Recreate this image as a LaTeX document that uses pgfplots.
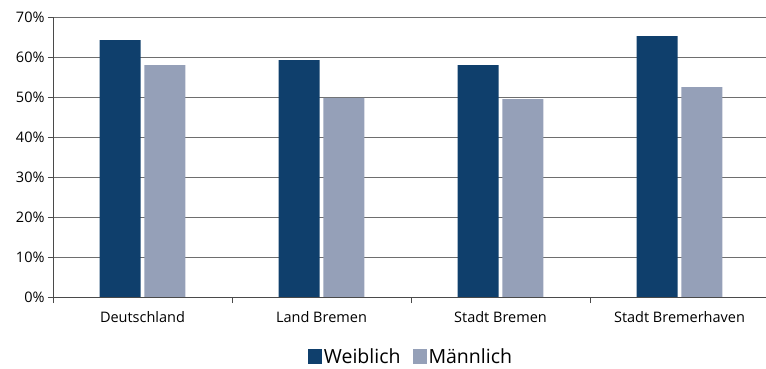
\documentclass[border=0pt]{standalone}
\usepackage{pgfplots}
\pgfplotsset{compat=1.18}
\usepackage{fontspec}
\setmainfont{Open Sans}
\definecolor{weiblich}{HTML}{0F3F6C}
\definecolor{maennlich}{HTML}{95A0B8}
\definecolor{gridgray}{HTML}{6E6E6E}
\definecolor{axisgray}{HTML}{4A4A4A}
\begin{document}
\begin{tikzpicture}
\useasboundingbox (0,0) rectangle (766bp,369bp);
\begin{axis}[
  at={(53bp,72bp)}, anchor=origin,
  scale only axis, width=716bp, height=280bp,
  xmin=0, xmax=4, ymin=0, ymax=70,
  axis x line*=bottom, axis y line*=left,
  axis line style={-, axisgray, line width=0.9bp},
  ytick={0,10,...,70},
  yticklabels={0\%,10\%,20\%,30\%,40\%,50\%,60\%,70\%},
  ymajorgrids, grid style={gridgray, line width=0.9bp},
  tick align=outside,
  ytick style={axisgray, line width=0.9bp},
  major tick length=5bp,
  xtick={0.5,1.5,2.5,3.5},
  xticklabels={Deutschland, Land Bremen, Stadt Bremen, Stadt Bremerhaven},
  xtick style={draw=none},
  extra x ticks={0,1,2,3,4},
  extra x tick labels={},
  extra x tick style={xtick style={draw=axisgray, line width=0.9bp}, major tick length=6bp, grid=none},
  ticklabel style={font=\fontsize{14.5bp}{17bp}\selectfont, text=black},
  xticklabel style={yshift=-6bp},
  ybar, bar width=0.23,
  legend style={at={(0.50,-0.214)}, anchor=center, draw=none, fill=none,
    legend columns=2, font=\fontsize{19.5bp}{22bp}\selectfont,
    /tikz/every even column/.append style={column sep=10bp}},
  legend image code/.code={\fill[#1] (0bp,-7.5bp) rectangle (14bp,7.5bp);},
]
\addplot[fill=weiblich, draw=none, bar shift=-0.125]
  coordinates {(0.5,64.25) (1.5,59.25) (2.5,58.0) (3.5,65.25)};
\addplot[fill=maennlich, draw=none, bar shift=0.125]
  coordinates {(0.5,58.0) (1.5,49.8) (2.5,49.5) (3.5,52.5)};
\legend{Weiblich, Männlich}
\end{axis}
\end{tikzpicture}
\end{document}
